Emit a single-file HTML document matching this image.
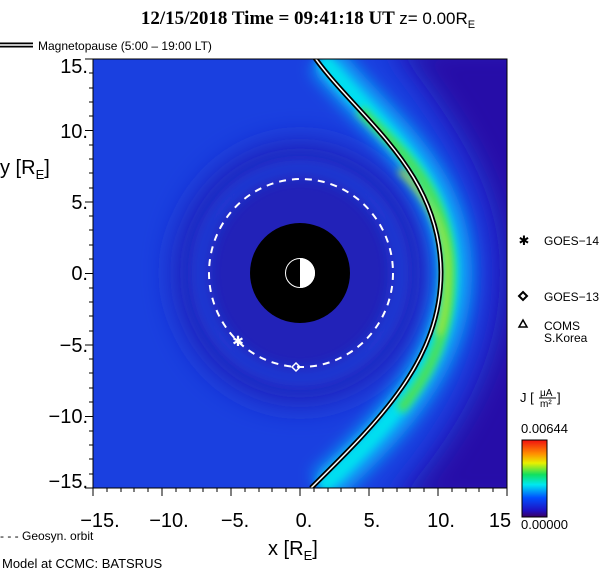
<!DOCTYPE html>
<html><head><style>
body{margin:0;background:#fff;width:616px;height:574px;overflow:hidden;font-family:"Liberation Sans",sans-serif}
</style></head><body>
<svg width="616" height="574" viewBox="0 0 616 574" xmlns="http://www.w3.org/2000/svg">
<defs>
<filter id="b8" x="-50%" y="-50%" width="200%" height="200%"><feGaussianBlur stdDeviation="8"/></filter>
<filter id="b4" x="-50%" y="-50%" width="200%" height="200%"><feGaussianBlur stdDeviation="4"/></filter>
<filter id="b15" x="-50%" y="-50%" width="200%" height="200%"><feGaussianBlur stdDeviation="15"/></filter>
<clipPath id="pc"><rect x="93" y="59" width="414" height="429"/></clipPath>
<linearGradient id="cb" x1="0" y1="1" x2="0" y2="0">
<stop offset="0" stop-color="#3a0060"/><stop offset="0.08" stop-color="#2010c0"/><stop offset="0.25" stop-color="#0050ff"/><stop offset="0.42" stop-color="#00e8f0"/><stop offset="0.55" stop-color="#10e060"/><stop offset="0.7" stop-color="#e8f000"/><stop offset="0.82" stop-color="#ff9000"/><stop offset="1" stop-color="#f01010"/>
</linearGradient>
</defs>
<text x="308" y="24" font-family="Liberation Serif,serif" font-size="19" font-weight="bold" text-anchor="middle">12/15/2018 Time = 09:41:18 UT <tspan font-family="Liberation Sans,sans-serif" font-weight="normal" font-size="17">z= 0.00R</tspan><tspan font-family="Liberation Sans,sans-serif" font-weight="normal" font-size="11" dy="4">E</tspan></text>
<line x1="0" y1="45" x2="33" y2="45" stroke="#000" stroke-width="5"/><line x1="0" y1="45" x2="33" y2="45" stroke="#fff" stroke-width="1.5"/>
<text x="38" y="50" font-size="12">Magnetopause (5:00 – 19:00 LT)</text>
<g clip-path="url(#pc)">
<rect x="93" y="59" width="414" height="429" fill="#1a40e0"/>
<path d="M390,40 C470,140 500,200 500,272 C500,350 470,420 390,510 L540,510 L540,40Z" fill="#2810a8" filter="url(#b15)"/>
<ellipse cx="300" cy="273" rx="125" ry="130" fill="#2420b8" filter="url(#b15)"/>
<ellipse cx="300" cy="273" rx="100" ry="105" fill="none" stroke="#1a4ae8" stroke-width="10" filter="url(#b8)"/>
<path d="M325,58 C372,120 453,170 454,272 C454,360 393,425 324,488" fill="none" stroke="#10a8f8" stroke-width="36" filter="url(#b8)"/>
<path d="M322,58 C368,120 449,170 450,272 C450,360 389,425 321,488" fill="none" stroke="#00e0f0" stroke-width="16" filter="url(#b4)"/>
<path d="M360,110 C400,150 450,190 450,272 C450,340 425,380 400,410" fill="none" stroke="#50e050" stroke-width="10" filter="url(#b4)"/>
<path d="M400,170 C430,200 447,230 447,272 C447,300 444,320 438,335" fill="none" stroke="#c8e820" stroke-width="5" filter="url(#b4)"/>
<path d="M315,58 C360,120 440,170 441,272 C441,360 380,420 311,488" fill="none" stroke="#000" stroke-width="5"/>
<path d="M315,58 C360,120 440,170 441,272 C441,360 380,420 311,488" fill="none" stroke="#fff" stroke-width="1.5"/>
</g>
<rect x="93" y="59" width="414" height="429" fill="none" stroke="#000" stroke-width="1"/>
<circle cx="300" cy="273" r="50" fill="#000"/>
<path d="M300,258 A15,15 0 0 1 300,288Z" fill="#fff"/>
<circle cx="300" cy="273" r="14.5" fill="none" stroke="#fff" stroke-width="1"/>
<ellipse cx="301" cy="273" rx="92" ry="94" fill="none" stroke="#fff" stroke-width="2" stroke-dasharray="7,6"/>
<text x="238" y="346" font-size="14" fill="#fff" text-anchor="middle">✱</text>
<path d="M296,363 L300,367 L296,371 L292,367Z" fill="none" stroke="#fff" stroke-width="1.5"/>
<g stroke="#000" stroke-width="1">
<path d="M93,488 v8 M162,488 v8 M231,488 v8 M300,488 v8 M369,488 v8 M438,488 v8 M507,488 v8"/>
<path d="M107,488 v4 M121,488 v4 M134,488 v4 M148,488 v4 M176,488 v4 M190,488 v4 M203,488 v4 M217,488 v4 M245,488 v4 M259,488 v4 M272,488 v4 M286,488 v4 M314,488 v4 M328,488 v4 M341,488 v4 M355,488 v4 M383,488 v4 M397,488 v4 M410,488 v4 M424,488 v4 M452,488 v4 M466,488 v4 M479,488 v4 M493,488 v4"/>
<path d="M85,59 h8 M85,130.5 h8 M85,202 h8 M85,273.5 h8 M85,345 h8 M85,416.5 h8 M85,488 h8"/>
<path d="M89,73 h4 M89,88 h4 M89,102 h4 M89,116 h4 M89,145 h4 M89,159 h4 M89,173 h4 M89,188 h4 M89,216 h4 M89,230 h4 M89,245 h4 M89,259 h4 M89,288 h4 M89,302 h4 M89,316 h4 M89,331 h4 M89,359 h4 M89,373 h4 M89,388 h4 M89,402 h4 M89,431 h4 M89,445 h4 M89,459 h4 M89,474 h4"/>
</g>
<g font-size="20" fill="#000" text-anchor="end">
<text x="88" y="73">15.</text><text x="88" y="138">10.</text><text x="88" y="209">5.</text><text x="88" y="280">0.</text><text x="88" y="352">−5.</text><text x="88" y="423">−10.</text><text x="88" y="488">−15.</text>
</g>
<g font-size="20" fill="#000" text-anchor="middle">
<text x="100" y="527">−15.</text><text x="169" y="527">−10.</text><text x="235" y="527">−5.</text><text x="304" y="527">0.</text><text x="372" y="527">5.</text><text x="441" y="527">10.</text><text x="500" y="527">15</text>
</g>
<text x="0" y="174" font-size="20">y [R<tspan font-size="13" dy="5">E</tspan><tspan dy="-5">]</tspan></text>
<text x="268" y="555" font-size="20">x [R<tspan font-size="13" dy="5">E</tspan><tspan dy="-5">]</tspan></text>
<text x="0" y="540" font-size="12">- - - Geosyn. orbit</text>
<text x="2" y="568" font-size="13">Model at CCMC: BATSRUS</text>
<text x="524" y="245" font-size="13" text-anchor="middle">✱</text>
<text x="544" y="245" font-size="12">GOES−14</text>
<path d="M523,292 L527,296 L523,300 L519,296Z" fill="none" stroke="#000" stroke-width="2"/>
<text x="544" y="301" font-size="12">GOES−13</text>
<path d="M523,320 L527,327 L519,327Z" fill="none" stroke="#000" stroke-width="1.5"/>
<text x="544" y="330" font-size="12">COMS</text><text x="544" y="342" font-size="12">S.Korea</text>
<text x="520" y="402" font-size="13">J [</text>
<text x="540" y="396" font-size="10">μA</text><line x1="539" y1="398" x2="556" y2="398" stroke="#000"/><text x="540" y="407" font-size="10">m²</text>
<text x="557" y="402" font-size="13">]</text>
<text x="521" y="433" font-size="13">0.00644</text>
<rect x="522" y="440" width="25" height="77" fill="url(#cb)" stroke="#000" stroke-width="1"/>
<text x="521" y="529" font-size="13">0.00000</text>
</svg>
</body></html>
